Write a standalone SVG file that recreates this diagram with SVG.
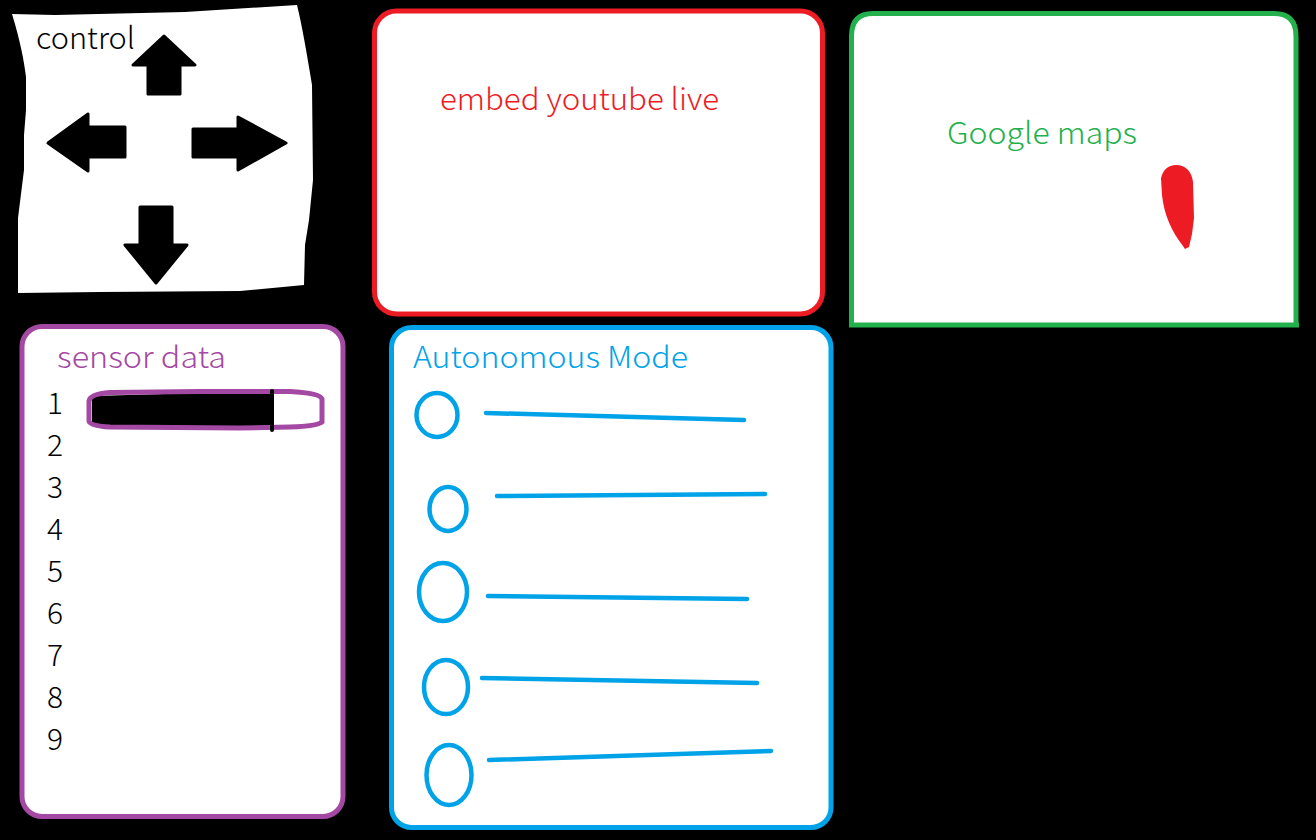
<svg xmlns="http://www.w3.org/2000/svg" width="1316" height="840" viewBox="0 0 1316 840">
<style>
text{font-family:"Noto Sans CJK JP","Noto Sans",sans-serif;font-size:30px;font-weight:300}
.panel{fill:#fff;stroke-width:5}
.ar{fill:#000;stroke:#000;stroke-width:3;stroke-linejoin:round}
.blue{fill:none;stroke:#00a2e8;stroke-width:4.5;stroke-linecap:round}
.num{fill:#000}
</style>
<rect width="1316" height="840" fill="#000"/>
<g id="control">
<path d="M12 14 L55 15 L185 12 L297 5 C302 25 307 55 312 85 L313 180 L309 220 L305 245 L304 285 L240 291 L100 292 L18 293 L18 218 L24 170 L24 135 L26 110 L26 77 C24 60 20 40 12 14 Z" fill="#fff"/>
<text x="36" y="49" textLength="99" lengthAdjust="spacingAndGlyphs">control</text>
<path class="ar" d="M164 36 L195 65 L180 65 L180 94 L148 94 L148 65 L133 65 Z"/>
<path class="ar" d="M48 143 L88 114 L88 127 L125 127 L125 157 L88 157 L88 171 Z"/>
<path class="ar" d="M286 143 L238 117 L238 129 L193 129 L193 157 L238 157 L238 170 Z"/>
<path class="ar" d="M156 283 L125 245 L140 245 L140 207 L172 207 L172 245 L187 245 Z"/>
</g>
<g id="youtube">
<rect class="panel" x="374.500" y="11" width="448" height="303" rx="22" stroke="#ed1c24"/>
<text x="440" y="110" fill="#ed1c24" textLength="279" lengthAdjust="spacingAndGlyphs">embed youtube live</text>
</g>
<g id="maps">
<path d="M851 325 L851 36 Q851 13.500 873 13.500 L1274 13.500 Q1296 13.500 1296 36 L1296 325 Z" fill="#fff"/>
<path d="M851.500 325 L851.500 36 Q851.500 13.500 873 13.500 L1274 13.500 Q1296 13.500 1296 36 L1296 325 M849 325 L1299 325" fill="none" stroke="#22b14c" stroke-width="5"/>
<text x="947" y="144" fill="#22b14c" textLength="190" lengthAdjust="spacingAndGlyphs">Google maps</text>
<path d="M1176 165 C1186 165 1192 172 1193 182 L1194 218 L1192 234 L1189 247 L1185 249 L1183 246 C1172 232 1164 215 1162 195 L1161 178 C1163 170 1168 165 1176 165 Z" fill="#ed1c24"/>
</g>
<g id="sensors">
<rect class="panel" x="22" y="326.500" width="321" height="490" rx="20" stroke="#a349a4"/>
<text x="57" y="368" fill="#a349a4" textLength="169" lengthAdjust="spacingAndGlyphs">sensor data</text>
<text class="num" x="47" y="414">1</text>
<text class="num" x="47" y="456">2</text>
<text class="num" x="47" y="498">3</text>
<text class="num" x="47" y="540">4</text>
<text class="num" x="47" y="582">5</text>
<text class="num" x="47" y="624">6</text>
<text class="num" x="47" y="666">7</text>
<text class="num" x="47" y="708">8</text>
<text class="num" x="47" y="750">9</text>
<path d="M92 396 L272 391 L272 429 L110 427 L92 423 Z" fill="#000"/>
<path d="M89 401 Q90 394 110 392.500 L200 391.500 L290 391.500 Q320 393 322 399 L322 422 Q318 426 290 427 L240 428 L110 427 Q90 426 89 421 Z" fill="none" stroke="#a349a4" stroke-width="5"/>
<path d="M272 391 L272 430" stroke="#000" stroke-width="4" stroke-linecap="round"/>
</g>
<g id="autonomous">
<rect class="panel" x="391.500" y="327.500" width="439.500" height="500" rx="20" stroke="#00a2e8"/>
<text x="413" y="368" fill="#00a2e8" textLength="275" lengthAdjust="spacingAndGlyphs">Autonomous Mode</text>
<ellipse class="blue" cx="437" cy="415" rx="20.500" ry="22"/>
<path class="blue" d="M486 413 L744 420"/>
<ellipse class="blue" cx="448" cy="509" rx="18.500" ry="22"/>
<path class="blue" d="M497 496 L765 494"/>
<ellipse class="blue" cx="443" cy="592" rx="24" ry="29"/>
<path class="blue" d="M488 596 L747 599"/>
<ellipse class="blue" cx="446" cy="687" rx="22" ry="27"/>
<path class="blue" d="M482 678 L757 683"/>
<ellipse class="blue" cx="449" cy="775" rx="22.500" ry="30"/>
<path class="blue" d="M489 760 L771 751"/>
</g>
<g id="connectors"/>
</svg>
